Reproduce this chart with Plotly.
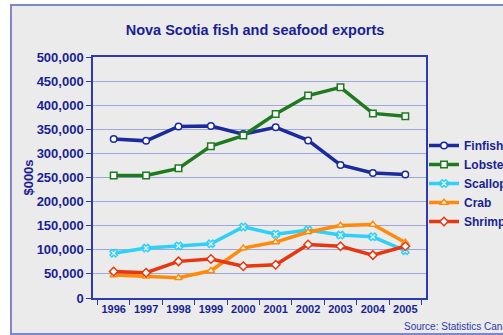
import plotly.graph_objects as go

years = ["1996", "1997", "1998", "1999", "2000", "2001", "2002", "2003", "2004", "2005"]
finfish = [330000, 326000, 356000, 357000, 340000, 354000, 327000, 276000, 259500, 256000]
lobster = [254000, 254000, 269000, 315000, 337000, 382000, 420000, 437000, 383000, 377000]
scallop = [93000, 103500, 108000, 112500, 147500, 132500, 141000, 130500, 127000, 98000]
crab = [47500, 45000, 42000, 56500, 103500, 116000, 137000, 150500, 152500, 115000]
shrimp = [55000, 52500, 76000, 81000, 66000, 69000, 111000, 107500, 89000, 107500]
y_ticks = [0, 50000, 100000, 150000, 200000, 250000, 300000, 350000, 400000, 450000, 500000]

series = [
    ("Finfish", finfish, "#1B2A9C", "circle"),
    ("Lobster", lobster, "#1E7A1E", "square"),
    ("Scallop", scallop, "#2FD0F8", "x"),
    ("Crab", crab, "#FF8A0A", "triangle-up"),
    ("Shrimp", shrimp, "#E8360E", "diamond"),
]

navy = "#1A1F96"
fig = go.Figure()
for name, vals, col, sym in series:
    fig.add_trace(go.Scatter(
        x=years, y=vals, name=name, mode="lines+markers",
        line=dict(color=col, width=3.5),
        marker=dict(symbol=sym, size=6.5, color="white", line=dict(color=col, width=1.5)),
    ))

W, H = 503, 335
L, R, T, B = 93, 77, 57, 37
pw = W - L - R
ph = H - T - B

def px(x):
    return (x - L) / pw

def py(y):
    return (H - B - y) / ph

fig.add_shape(type="rect", xref="paper", yref="paper",
              x0=px(11), x1=px(530), y0=py(334), y1=py(5),
              fillcolor="#EBEBEB", line=dict(color="#7F86D0", width=2), layer="below")

fig.update_layout(
    width=W, height=H,
    margin=dict(l=L, r=R, t=T, b=B, autoexpand=False),
    paper_bgcolor="white",
    plot_bgcolor="rgba(0,0,0,0)",
    font=dict(family="Liberation Sans, Arial, sans-serif", color=navy, size=12, weight="bold"),
    title=dict(text="Nova Scotia fish and seafood exports", x=0.507, xanchor="center",
               y=1 - 30 / H, yanchor="middle",
               font=dict(size=14.5, color=navy, weight="bold")),
    showlegend=True,
    legend=dict(x=px(424), y=py(131), xanchor="left", yanchor="top",
                bgcolor="rgba(0,0,0,0)", font=dict(size=12, color=navy, weight="bold"),
                tracegroupgap=0, itemwidth=30),
    xaxis=dict(type="category", showline=True, linecolor="#2F3AAE", linewidth=1.5,
               mirror=True, ticks="outside", tickson="boundaries", ticklen=5,
               tickcolor="#2F3AAE", showgrid=False, tickangle=0, automargin=False,
               tickfont=dict(size=11, color=navy, weight="bold")),
    yaxis=dict(range=[0, 500000], tickvals=y_ticks, tickformat=",d",
               showline=True, linecolor="#2F3AAE", linewidth=1.5, mirror=True,
               ticks="outside", ticklen=5, tickcolor="#2F3AAE", automargin=False,
               gridcolor="#9FA6E0", gridwidth=1, zeroline=False,
               tickfont=dict(size=13, color=navy, weight="bold"),
               title=dict(text="$000s", standoff=0, font=dict(size=13, color=navy, weight="bold"))),
)

fig.add_annotation(text="Source: Statistics Canada", xref="paper", yref="paper",
                   x=px(402), y=py(326), xanchor="left", yanchor="middle", showarrow=False,
                   font=dict(size=10, color="#2F3AAE", weight="normal"))

fig.write_html("out.html")
